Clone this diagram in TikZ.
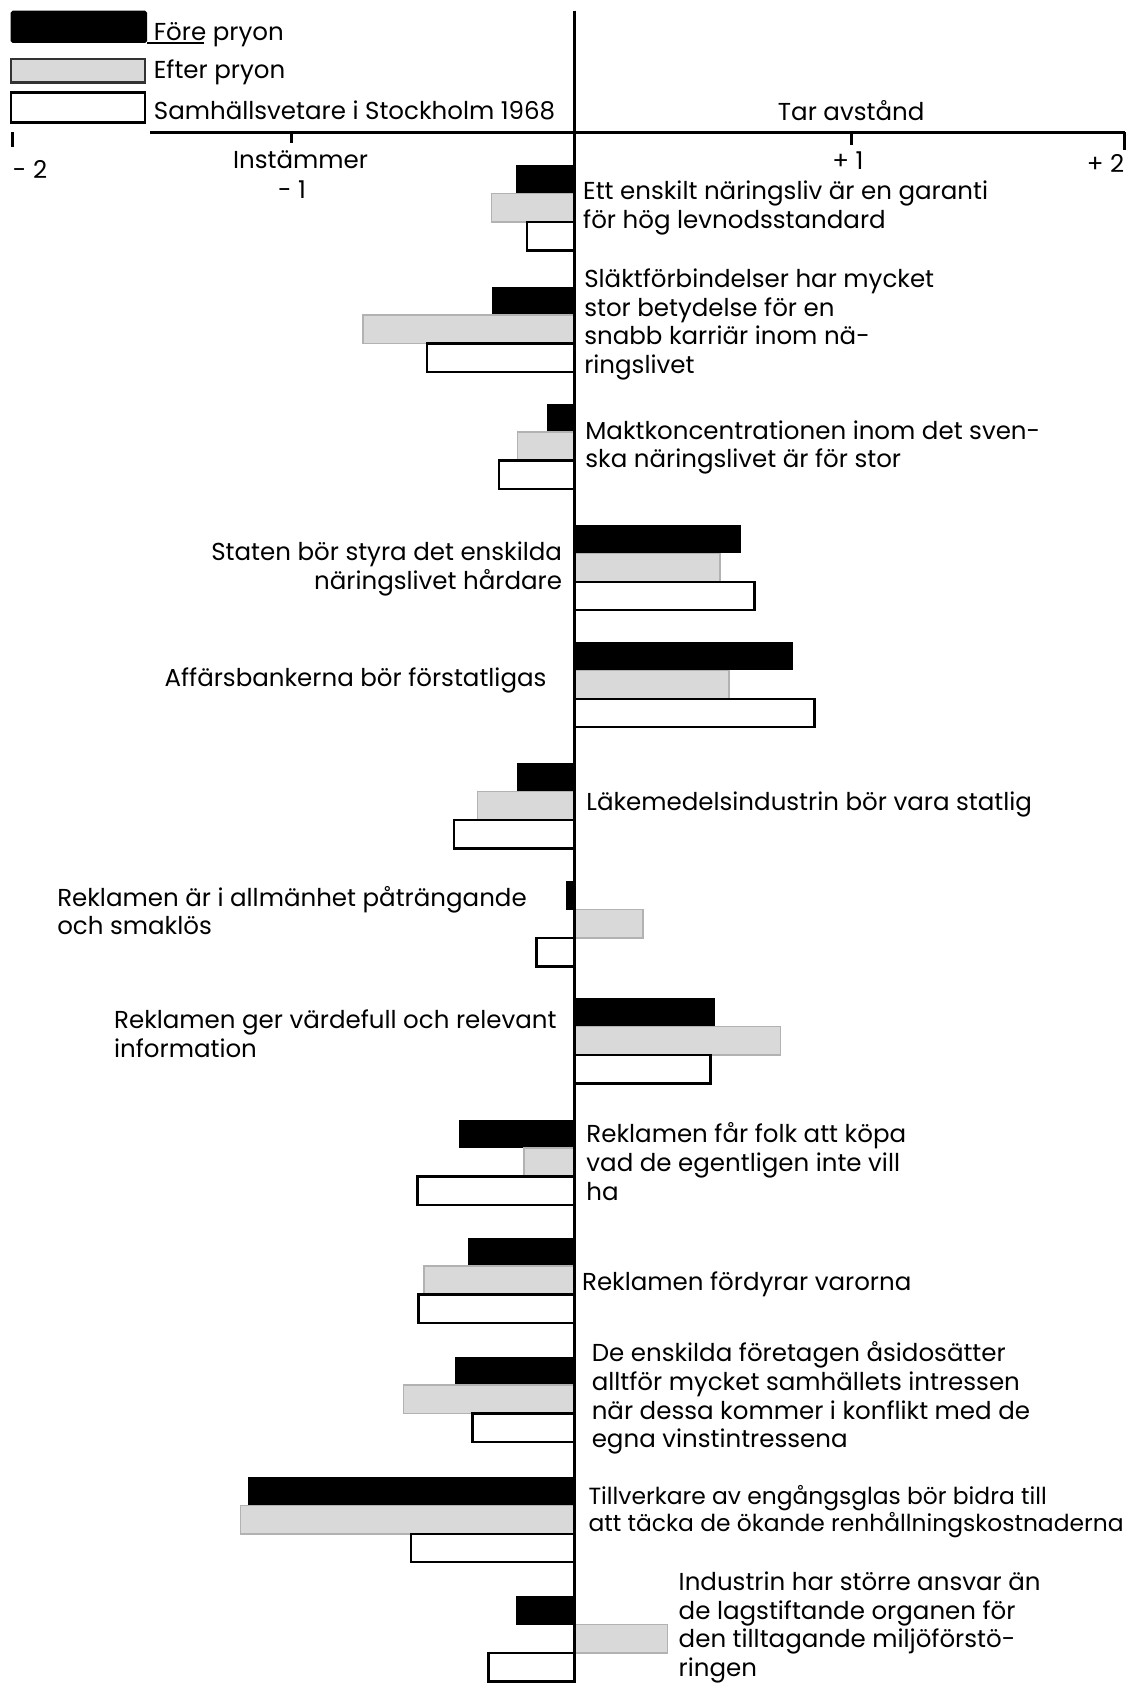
\documentclass[tikz,border=0pt]{standalone}
\usepackage{fontspec}
\setmainfont{Poppins}

\begin{document}
\begin{tikzpicture}[x=0.02cm, y=-0.02cm,
        lbl/.style={inner sep=0pt, align=left, font=\fontsize{13}{15.2}\selectfont},
        greybar/.style={fill=gray!30, draw=gray!60, line width=0.8pt},
        whitebar/.style={fill=white, draw=black, line width=1.3pt}]
        \useasboundingbox (0, 0) rectangle (1053, 1568);

        % legend
        \fill [rounded corners=1pt] (10, 10) rectangle (137, 40);
        \draw [greybar, draw=black!80, line width=1.3pt] (10, 55) rectangle (135, 77);
        \draw [whitebar] (10, 86) rectangle (135, 114);
        \draw [line width=0.8pt] (137, 40) -- (190, 40);
        \node [lbl, anchor=base west] (fore) at (143, 38) {Före pryon};
        \node [lbl, anchor=base west] (efter) at (143, 73) {Efter pryon};
        \node [lbl, anchor=base west] (samh) at (143, 111) {Samhällsvetare i Stockholm 1968};

        % bars: top / black end / grey end / white end
        \foreach \t/\b/\g/\w in {154/481/458/491, 267/458/338/398, 376/510/482/465,
                489/690/671/703, 598/739/679/759, 711/482/445/423, 821/527/599/500,
                930/666/727/662, 1043/428/488/389, 1153/436/395/390, 1264/424/376/440,
                1376/231/224/383, 1487/481/622/455}{
            \fill (535, \t) rectangle (\b, \t+26.5);
            \filldraw [greybar] (535, \t+26.5) rectangle (\g, \t+53);
            \draw [whitebar] (535, \t+53) rectangle (\w, \t+79.5);
        }

        % axes
        \draw [line width=1.6pt] (535, 10) -- (535, 1568);
        \draw [line width=1.6pt] (140, 123) -- (1048, 123);
        \draw [line width=1.6pt] (12, 123) -- (12, 137);
        \draw [line width=1.6pt] (272, 123) -- (272, 133);
        \draw [line width=1.6pt] (793, 123) -- (793, 135);
        \draw [line width=1.6pt] (1048, 123) -- (1048, 140);

        \node [lbl] (m2) at (28, 158) {- 2};
        \node [lbl] (inst) at (280, 149) {Instämmer};
        \node [lbl] (m1) at (272, 177) {- 1};
        \node [lbl] (p1) at (790, 150) {+ 1};
        \node [lbl] (p2) at (1030, 152) {+ 2};
        \node [lbl] (tar) at (793, 103) {Tar avstånd};

        % statements (base = last line)
        \node [lbl, anchor=base west] (s1) at (543, 213) {Ett enskilt näringsliv är en garanti\\för hög levnodsstandard};
        \node [lbl, anchor=base west] (s2) at (544, 348) {Släktförbindelser har mycket\\stor betydelse för en\\snabb karriär inom nä-\\ringslivet};
        \node [lbl, anchor=base west] (s3) at (545, 436) {Maktkoncentrationen inom det sven-\\ska näringslivet är för stor};
        \node [lbl, anchor=base east, align=right] (s4) at (524, 549) {Staten bör styra det enskilda\\näringslivet hårdare};
        \node [lbl, anchor=base west] (s5) at (153, 640) {Affärsbankerna bör förstatligas};
        \node [lbl, anchor=base west] (s6) at (546, 755) {Läkemedelsindustrin bör vara statlig};
        \node [lbl, anchor=base west] (s7) at (53, 871) {Reklamen är i allmänhet påträngande\\och smaklös};
        \node [lbl, anchor=base west] (s8) at (106, 985) {Reklamen ger värdefull och relevant\\information};
        \node [lbl, anchor=base west] (s9) at (546, 1118) {Reklamen får folk att köpa\\vad de egentligen inte vill\\ha};
        \node [lbl, anchor=base west] (s10) at (542, 1202) {Reklamen fördyrar varorna};
        \node [lbl, anchor=base west] (s11) at (551, 1349) {De enskilda företagen åsidosätter\\alltför mycket samhällets intressen\\när dessa kommer i konflikt med de\\egna vinstintressena};
        \node [lbl, anchor=base west, font=\fontsize{12.4}{14.4}\selectfont] (s12) at (548, 1427) {Tillverkare av engångsglas bör bidra till\\att täcka de ökande renhållningskostnaderna};
        \node [lbl, anchor=base west] (s13) at (632, 1562) {Industrin har större ansvar än\\de lagstiftande organen för\\den tilltagande miljöförstö-\\ringen};

    \end{tikzpicture}
\end{document}
